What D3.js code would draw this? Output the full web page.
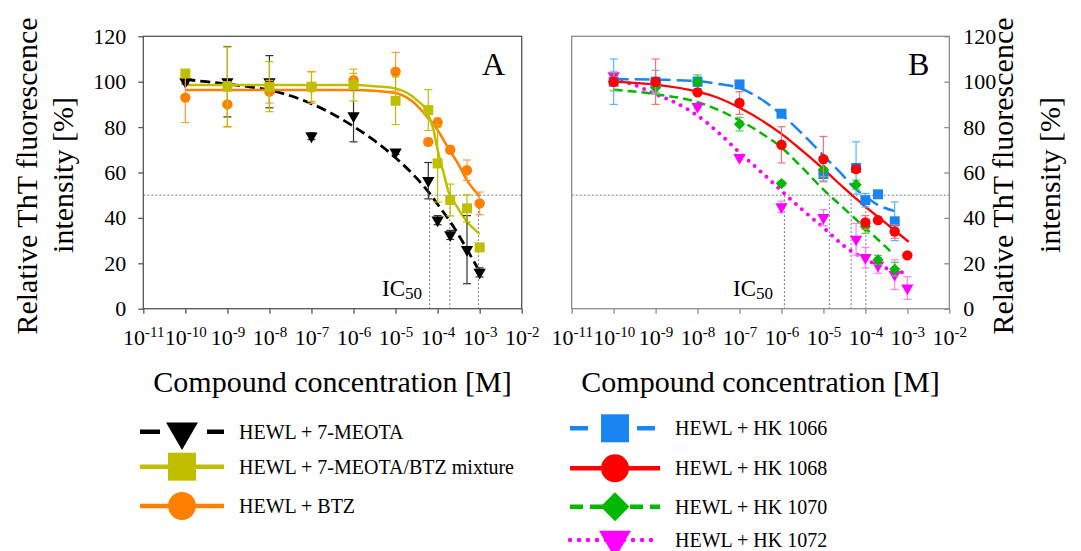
<!DOCTYPE html>
<html>
<head>
<meta charset="utf-8">
<script src="https://cdn.jsdelivr.net/npm/d3@7"></script>
<style>
  body { margin: 0; background: #fff; }
  svg { font-family: "Liberation Serif", "Times New Roman", serif; }
</style>
</head>
<body>
<div id="chart"></div>
<script>
// concentrations [M] used in both panels
var conc = [1e-10, 1e-9, 1e-8, 1e-7, 1e-6, 1e-5, 6e-5, 1e-4, 2e-4, 5e-4, 1e-3];

// panel A - measured values and errors [%]
var meotaY   = [100, 100, 100, 76, 85, 69, 56.4, 39, 32.5, 26, 16];
var meotaErr = [1, 15.5, 11.5, 1.5, 11.5, 1, 8, 2, 2, 15, 2];
var mixY     = [103.6, 97.8, 97.8, 97.8, 98.5, 91.6, 87.5, 64, 47.9, 44.2, 27];
var mixErr   = [1, 17.5, 11, 6.5, 7, 10.5, 9, 17, 7, 6, 1];
var btzY     = [93, 90, 95.6, 97.5, 100.7, 104.4, 73.5, 82, 70, 61, 46.4];
var btzErr   = [11, 10, 5, 7, 3, 8.5, 1.5, 2, 1.5, 4.5, 5];

// panel B - measured values and errors [%]
var hk1066Y   = [100, 100, 100, 98.8, 85.9, 59.3, 62, 47.8, 50.4, 38.5, null];
var hk1066Err = [10, 5, 2, 1, 1, 3, 11.5, 3, 1, 8.5, 0];
var hk1068Y   = [100, 100, 95.3, 90.6, 72.2, 65.9, 61.5, 38, 39, 34, 23.5];
var hk1068Err = [2, 10, 1, 5, 8, 10, 1, 3, 1, 3, 1];
var hk1070Y   = [100, 97.5, 100, 81.3, 55.1, 61.2, 54.6, 36.2, 21.5, 17.4, null];
var hk1070Err = [4, 3, 3, 3, 1, 3, 2, 3, 2, 3, 0];
var hk1072Y   = [102.6, 97.5, 89.1, 66.6, 44.9, 40.1, 30.6, 22.5, 19.1, 15, 9.1];
var hk1072Err = [2, 2, 1, 1, 2.5, 3.5, 7, 4.5, 3.5, 6.5, 5];

// fitted curves (log10 concentration, %)
var fitMeotaX = [-10, -9.5, -9, -8.5, -8, -7.5, -7, -6.5, -6, -5.5, -5, -4.5, -4.19, -4, -3.7, -3.5, -3.22, -3.05];
var fitMeotaY = [101, 100, 99, 97.8, 96.3, 93.8, 90.3, 85.8, 80.3, 74, 66.5, 57.5, 50.8, 46, 38.3, 32.5, 23.5, 18];
var fitMixX   = [-10, -8, -6, -5.5, -5, -4.5, -4.25, -4.1, -4, -3.86, -3.74, -3.54, -3.3, -3];
var fitMixY   = [98.5, 98.5, 98.5, 98, 97, 92, 86.8, 79, 70, 60, 51.5, 45, 38.3, 33];
var fitBtzX   = [-10, -6, -5.5, -5, -4.5, -4.25, -4, -3.74, -3.5, -3.3, -3];
var fitBtzY   = [96.3, 96.3, 96, 95, 89.7, 84.5, 78.7, 70.5, 63.5, 56.5, 49.5];

var fit1066X = [-10, -9, -8, -7.5, -7, -6.5, -6, -5.5, -5, -4.5, -4.29, -4, -3.73, -3.3];
var fit1066Y = [101.2, 100.9, 100.3, 99, 97.2, 92.5, 85.5, 77, 67.5, 58, 53.7, 49.5, 46, 43];
var fit1068X = [-10, -9, -8, -7.5, -7, -6.5, -6, -5.5, -5, -4.5, -4, -3.5, -2.97];
var fit1068Y = [100, 98.7, 95.6, 92.8, 88.5, 83.3, 77, 69.5, 61.5, 53, 45, 37.5, 29.5];
var fit1070X = [-10, -9, -8, -7.5, -7, -6.5, -6, -5.5, -5, -4.5, -4, -3.5, -3.33];
var fit1070Y = [96.5, 94.5, 91, 87.5, 83, 77.5, 71, 62, 52.5, 44, 35.5, 27, 24];
var fit1072X = [-10, -9.5, -9, -8.5, -8, -7.5, -7, -6.5, -6, -5.5, -5, -4.5, -4, -3.5, -3.1];
var fit1072Y = [101, 98.5, 94.5, 90.5, 85, 77.5, 68.8, 60.5, 51.9, 43.5, 35.7, 27.5, 21.8, 17.8, 16];

// IC50 positions (log10 concentration)
var ic50A = [-4.19, -3.71, -3.03];
var ic50B = [-5.93, -4.86, -4.34, -3.99];

// ticks and labels
var xTickExp = [-11, -10, -9, -8, -7, -6, -5, -4, -3, -2];
var yTicks = [0, 20, 40, 60, 80, 100, 120];
var legendLabelsA = ["HEWL + 7-MEOTA", "HEWL + 7-MEOTA/BTZ mixture", "HEWL + BTZ"];
var legendLabelsB = ["HEWL + HK 1066", "HEWL + HK 1068", "HEWL + HK 1070", "HEWL + HK 1072"];

var svg = d3.select("#chart").append("svg")
    .attr("width", 1081)
    .attr("height", 551);

var y = d3.scaleLinear().domain([0, 120]).range([308.7, 36.3]);
var xA = d3.scaleLog().domain([1e-11, 1e-2]).range([143.3, 521.7]);
var xB = d3.scaleLog().domain([1e-11, 1e-2]).range([571.7, 949.3]);

// marker shapes
function markerPath(kind, big) {
    if (kind == "tri") return d3.symbol().type(d3.symbolTriangle).size(big ? 440 : 66)();
    if (kind == "square") return d3.symbol().type(d3.symbolSquare).size(big ? 784 : 100)();
    if (kind == "circle") return d3.symbol().type(d3.symbolCircle).size(big ? 615 : 85)();
    return d3.symbol().type(d3.symbolSquare).size(big ? 420 : 64)();
}
function markerRotate(kind) {
    if (kind == "tri") return 180;
    if (kind == "diamond") return 45;
    return 0;
}

var seriesA = [
    {y: meotaY, err: meotaErr, fx: fitMeotaX, fy: fitMeotaY, color: "#000000", errColor: "#333333", dash: "10,5", width: 2.8, kind: "tri", legDash: "20,47"},
    {y: btzY, err: btzErr, fx: fitBtzX, fy: fitBtzY, color: "#ff8000", errColor: "#ff9a40", dash: null, width: 2.5, kind: "circle", legDash: null},
    {y: mixY, err: mixErr, fx: fitMixX, fy: fitMixY, color: "#bfbf00", errColor: "#bfbf00", dash: null, width: 2.5, kind: "square", legDash: null}
];
var seriesB = [
    {y: hk1072Y, err: hk1072Err, fx: fit1072X, fy: fit1072Y, color: "#ff00ff", errColor: "#ff80ff", dash: "0,8", width: 4, cap: "round", kind: "tri", legDash: "0,9"},
    {y: hk1066Y, err: hk1066Err, fx: fit1066X, fy: fit1066Y, color: "#1a85f0", errColor: "#55b5ff", dash: "15,6", width: 2.5, kind: "square", legDash: "18,49"},
    {y: hk1070Y, err: hk1070Err, fx: fit1070X, fy: fit1070Y, color: "#00b800", errColor: "#55cc55", dash: "9,5", width: 2.5, kind: "diamond", legDash: "13,7"},
    {y: hk1068Y, err: hk1068Err, fx: fit1068X, fy: fit1068Y, color: "#ff0000", errColor: "#ff7070", dash: null, width: 2.3, kind: "circle", legDash: null}
];

function drawPanel(x, series, ic50, frameColor, side) {
    var x0 = x.range()[0], x1 = x.range()[1];

    // 50% line and IC50 drops
    svg.append("line")
        .attr("x1", x0).attr("x2", x1)
        .attr("y1", y(50)).attr("y2", y(50))
        .attr("stroke", "#777").attr("stroke-width", 1).attr("stroke-dasharray", "2,2");
    svg.selectAll(null).data(ic50).enter().append("line")
        .attr("x1", function (d) { return x(Math.pow(10, d)); })
        .attr("x2", function (d) { return x(Math.pow(10, d)); })
        .attr("y1", y(50)).attr("y2", y(0))
        .attr("stroke", "#777").attr("stroke-width", 1).attr("stroke-dasharray", "2,2");

    // fitted curves
    var line = d3.line()
        .x(function (d) { return x(Math.pow(10, d[0])); })
        .y(function (d) { return y(d[1]); })
        .curve(d3.curveMonotoneX);
    series.forEach(function (s) {
        var pts = s.fx.map(function (v, i) { return [v, s.fy[i]]; });
        svg.append("path")
            .attr("d", line(pts))
            .attr("fill", "none")
            .attr("stroke", s.color)
            .attr("stroke-width", s.width)
            .attr("stroke-linecap", s.cap || "butt")
            .attr("stroke-dasharray", s.dash);
    });

    // error bars and markers
    series.forEach(function (s) {
        var pts = conc.map(function (c, i) { return {c: c, v: s.y[i], e: s.err[i]}; })
            .filter(function (d) { return d.v != null; });
        var g = svg.append("g");
        var eb = g.selectAll(".eb").data(pts).enter().append("g")
            .attr("stroke", s.errColor).attr("stroke-width", 1.2);
        eb.append("line")
            .attr("x1", function (d) { return x(d.c); }).attr("x2", function (d) { return x(d.c); })
            .attr("y1", function (d) { return y(d.v - d.e); }).attr("y2", function (d) { return y(d.v + d.e); });
        eb.append("line")
            .attr("x1", function (d) { return x(d.c) - 4; }).attr("x2", function (d) { return x(d.c) + 4; })
            .attr("y1", function (d) { return y(d.v + d.e); }).attr("y2", function (d) { return y(d.v + d.e); });
        eb.append("line")
            .attr("x1", function (d) { return x(d.c) - 4; }).attr("x2", function (d) { return x(d.c) + 4; })
            .attr("y1", function (d) { return y(d.v - d.e); }).attr("y2", function (d) { return y(d.v - d.e); });
        g.selectAll(".mk").data(pts).enter().append("path")
            .attr("d", markerPath(s.kind, false))
            .attr("transform", function (d) {
                return "translate(" + x(d.c) + "," + y(d.v) + ") rotate(" + markerRotate(s.kind) + ")";
            })
            .attr("fill", s.color);
    });

    // frame
    svg.append("rect")
        .attr("x", x0).attr("y", y(120))
        .attr("width", x1 - x0).attr("height", y(0) - y(120))
        .attr("fill", "none").attr("stroke", frameColor).attr("stroke-width", 1.3);

    // x axis with 10^n labels
    var xAxis = svg.append("g")
        .attr("transform", "translate(0," + y(0) + ")")
        .call(d3.axisBottom(x)
            .tickValues(xTickExp.map(function (e) { return Math.pow(10, e); }))
            .tickSize(5).tickPadding(16).tickFormat(""))
        .attr("font-family", null).attr("font-size", 22);
    xAxis.select(".domain").remove();
    xAxis.selectAll(".tick line").attr("stroke", frameColor).attr("stroke-width", 1.3);
    xAxis.selectAll(".tick text").attr("fill", "#000").each(function (d, i) {
        var t = d3.select(this);
        t.append("tspan").text("10");
        t.append("tspan").attr("font-size", 15).attr("dy", -8).text(xTickExp[i]);
    });

    // y axis
    var yAxis;
    if (side == "left") {
        yAxis = svg.append("g").attr("transform", "translate(" + x0 + ",0)")
            .call(d3.axisLeft(y).tickValues(yTicks).tickSize(5).tickPadding(12));
    } else {
        yAxis = svg.append("g").attr("transform", "translate(" + x1 + ",0)")
            .call(d3.axisRight(y).tickValues(yTicks).tickSize(-5).tickPadding(14));
    }
    yAxis.attr("font-family", null).attr("font-size", 22);
    yAxis.select(".domain").remove();
    yAxis.selectAll(".tick line").attr("stroke", frameColor).attr("stroke-width", 1.3);
    yAxis.selectAll(".tick text").attr("fill", "#000");

    // x title
    svg.append("text")
        .attr("x", (x0 + x1) / 2).attr("y", 392)
        .attr("text-anchor", "middle").attr("font-size", 30)
        .text("Compound concentration [M]");
}

drawPanel(xA, seriesA, ic50A, "#555555", "left");
drawPanel(xB, seriesB, ic50B, "#8c8c8c", "right");

// panel letters and IC50 labels
svg.append("text").attr("x", 482).attr("y", 75).attr("font-size", 32).text("A");
svg.append("text").attr("x", 908).attr("y", 75).attr("font-size", 32).text("B");
[382, 733].forEach(function (px) {
    var t = svg.append("text").attr("x", px).attr("y", 296).attr("font-size", 23);
    t.append("tspan").text("IC");
    t.append("tspan").attr("font-size", 17).attr("dy", 3).text("50");
});

// y titles
function yTitle(cx1, cx2) {
    svg.append("text")
        .attr("transform", "translate(" + cx1 + ",176) rotate(-90)")
        .attr("text-anchor", "middle").attr("font-size", 30)
        .text("Relative ThT fluorescence");
    svg.append("text")
        .attr("transform", "translate(" + cx2 + ",175) rotate(-90)")
        .attr("text-anchor", "middle").attr("font-size", 30)
        .text("intensity [%]");
}
yTitle(37, 73);
yTitle(1013, 1060);

// legends
function legend(series, labels, rows, lx0, lx1, mx, tx) {
    labels.forEach(function (label, i) {
        var s = series[i];
        var ry = rows[i];
        svg.append("line")
            .attr("x1", lx0).attr("x2", lx1).attr("y1", ry).attr("y2", ry)
            .attr("stroke", s.color)
            .attr("stroke-width", 4.5)
            .attr("stroke-linecap", s.cap || "butt")
            .attr("stroke-dasharray", s.legDash);
        svg.append("path")
            .attr("d", markerPath(s.kind, true))
            .attr("transform", "translate(" + mx + "," + ry + ") rotate(" + markerRotate(s.kind) + ")")
            .attr("fill", s.color);
        svg.append("text")
            .attr("x", tx).attr("y", ry + 7)
            .attr("font-size", 20)
            .text(label);
    });
}
legend([seriesA[0], seriesA[2], seriesA[1]], legendLabelsA, [431.7, 466.7, 506], 140, 224, 182, 239);
legend([seriesB[1], seriesB[3], seriesB[2], seriesB[0]], legendLabelsB, [428.3, 468.3, 506.7, 540], 570, 660, 615, 675);
</script>
</body>
</html>
